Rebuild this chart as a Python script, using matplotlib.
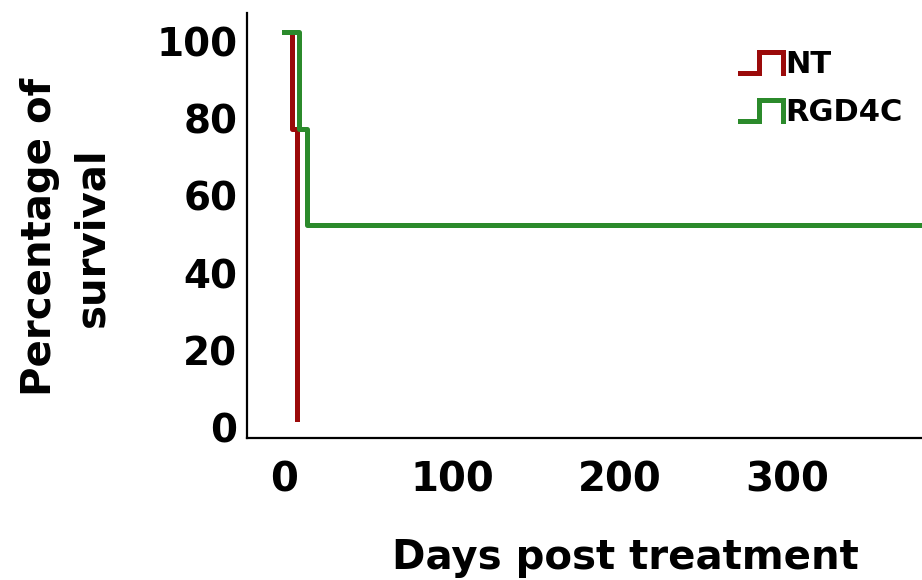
import matplotlib
matplotlib.use('Agg')
import matplotlib.pyplot as plt
from matplotlib.lines import Line2D
from matplotlib.legend_handler import HandlerBase
from matplotlib.transforms import ScaledTranslation

# survival curves
days_nt = [0, 5, 8]
surv_nt = [100, 75, 0]
days_rgd = [0, 9, 14, 400]
surv_rgd = [100, 75, 50, 50]

xticks = [0, 100, 200, 300]
yticks = [0, 20, 40, 60, 80, 100]

red = '#9b0a0a'
green = '#2b8a2b'

plt.rcParams['font.family'] = ['DejaVu Sans']
plt.rcParams['font.weight'] = 'bold'


class StepHandler(HandlerBase):
    # little step glyph like the one in the reference legend
    def create_artists(self, legend, orig_handle, xdescent, ydescent,
                       width, height, fontsize, trans):
        x0 = -xdescent
        lo = -ydescent
        hi = -ydescent + height
        xs = [x0, x0 + width * 0.45, x0 + width * 0.45, x0 + width, x0 + width]
        ys = [lo, lo, hi, hi, lo]
        ln = Line2D(xs, ys, color=orig_handle.get_color(),
                    lw=orig_handle.get_linewidth(), solid_joinstyle='miter')
        ln.set_transform(trans)
        return [ln]


fig = plt.figure(figsize=(9.22, 5.8), dpi=100)
ax = fig.add_axes([247 / 922, 1 - 438 / 580, 1 - 247 / 922, (438 - 13) / 580])

l1, = ax.step(days_nt, surv_nt, where='post', color=red, lw=3.6, label='NT')
l2, = ax.step(days_rgd, surv_rgd, where='post', color=green, lw=3.6, label='RGD4C')

ax.set_xlim(-22, 380)
ax.set_ylim(-5, 105)
ax.set_xticks(xticks)
ax.set_yticks(yticks)
ax.tick_params(length=0)
ax.tick_params(axis='x', pad=16, labelsize=29)
ax.tick_params(axis='y', pad=7, labelsize=28)
for lab in ax.get_yticklabels():
    lab.set_transform(lab.get_transform() + ScaledTranslation(0, -0.09, fig.dpi_scale_trans))

for s in ['top', 'right']:
    ax.spines[s].set_visible(False)
for s in ['left', 'bottom']:
    ax.spines[s].set_linewidth(1.6)

fig.text(66 / 922, 1 - 237 / 580, 'Percentage of\nsurvival', rotation=90,
         ha='center', va='center', multialignment='center', fontsize=29,
         linespacing=1.4)
fig.text(625 / 922, 1 - 569 / 580, 'Days post treatment', ha='center',
         va='baseline', fontsize=29)

ax.legend(handles=[l1, l2], handler_map={Line2D: StepHandler()},
          loc='upper left', bbox_to_anchor=(740 / 922, 1 - 50 / 580),
          bbox_transform=fig.transFigure, frameon=False, fontsize=22,
          handlelength=1.4, handleheight=0.7, handletextpad=0.07,
          labelspacing=0.62, borderaxespad=0, borderpad=0)

fig.savefig('out.png', dpi=100)
